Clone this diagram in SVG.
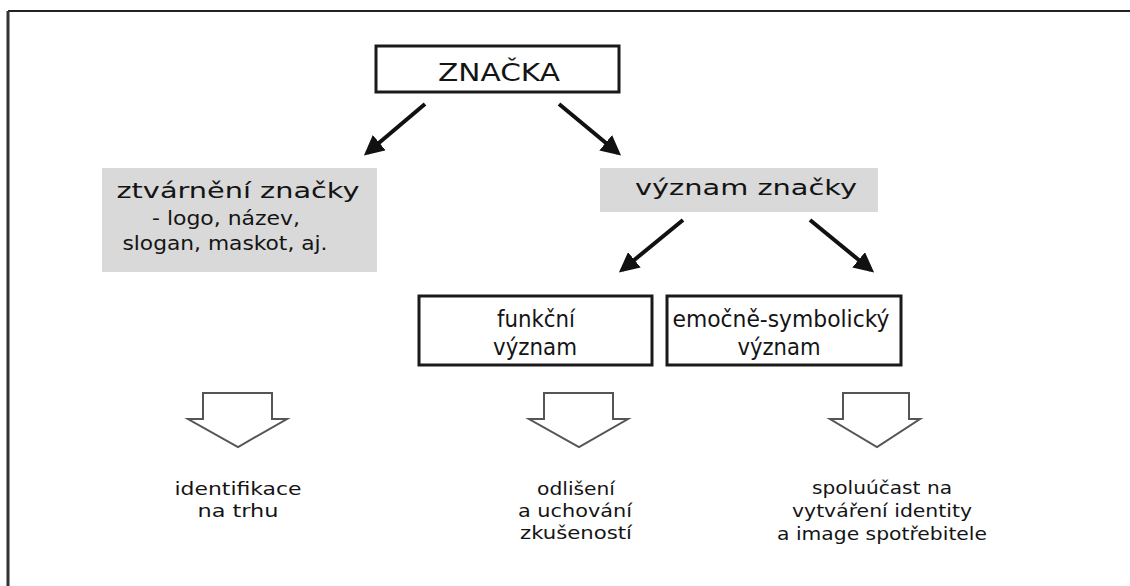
<svg xmlns="http://www.w3.org/2000/svg" width="1130" height="586" viewBox="0 0 1130 586">
<defs>
<style>
text{font-family:"DejaVu Sans","Liberation Sans",sans-serif;fill:#141414;text-anchor:middle}
.t1{font-size:25px}
.t2{font-size:21px}
.t3{font-size:19px}
.t4{font-size:23px}
.t5{font-size:18px}
.gray{fill:#d9d9d9;stroke:none}
.box{fill:#fff;stroke:#1a1a1a;stroke-width:3}
.conn{stroke:#111;stroke-width:4;fill:none;marker-end:url(#ah)}
.block{fill:#fff;stroke:#555;stroke-width:2;stroke-linejoin:miter}
</style>
<marker id="ah" viewBox="0 0 10 10" refX="8" refY="5" markerWidth="5" markerHeight="5" orient="auto" markerUnits="strokeWidth">
<path d="M0,0 L10,5 L0,10 z" fill="#111"/>
</marker>
</defs>
<rect width="1130" height="586" fill="#fff"/>
<g id="frame">
<line x1="8" y1="11" x2="1130" y2="11" stroke="#222" stroke-width="2"/>
<line x1="8" y1="11" x2="8" y2="586" stroke="#333" stroke-width="3"/>
</g>
<g id="znacka">
<rect class="box" x="376" y="46" width="243" height="46" stroke-width="4"/>
<text class="t1" x="499" y="81" textLength="122" lengthAdjust="spacingAndGlyphs">ZNAČKA</text>
</g>
<g id="ztvarneni">
<rect class="gray" x="102" y="168" width="275" height="104"/>
<text class="t2" x="238" y="198" textLength="243" lengthAdjust="spacingAndGlyphs">ztvárnění značky</text>
<text class="t3" x="226" y="225" textLength="148" lengthAdjust="spacingAndGlyphs">- logo, název,</text>
<text class="t3" x="225" y="250" textLength="205" lengthAdjust="spacingAndGlyphs">slogan, maskot, aj.</text>
</g>
<g id="vyznam">
<rect class="gray" x="600" y="168" width="278" height="44"/>
<text class="t2" x="746" y="195" textLength="222" lengthAdjust="spacingAndGlyphs">význam značky</text>
</g>
<g id="funkcni">
<rect class="box" x="419" y="296" width="233" height="69" stroke-width="2.5"/>
<text class="t4" x="536" y="327" textLength="78" lengthAdjust="spacingAndGlyphs">funkční</text>
<text class="t4" x="535" y="355" textLength="84" lengthAdjust="spacingAndGlyphs">význam</text>
</g>
<g id="emocne">
<rect class="box" x="667" y="296" width="234" height="69" stroke-width="2.5"/>
<text class="t4" x="781" y="327" textLength="217" lengthAdjust="spacingAndGlyphs">emočně-symbolický</text>
<text class="t4" x="779" y="355" textLength="83" lengthAdjust="spacingAndGlyphs">význam</text>
</g>
<g id="connectors">
<line class="conn" x1="425" y1="104" x2="367" y2="153"/>
<line class="conn" x1="559" y1="104" x2="618" y2="153"/>
<line class="conn" x1="683" y1="220" x2="622" y2="270"/>
<line class="conn" x1="810" y1="220" x2="871" y2="270"/>
<path class="block" d="M203,393 H272 V419 H287 L238,447 L188,419 H203 Z"/>
<path class="block" d="M544,393 H613 V419 H628 L579,447 L529,419 H544 Z"/>
<path class="block" d="M843,393 H909 V419 H920 L877,447 L830,419 H843 Z"/>
</g>
<g id="identifikace">
<text class="t5" x="238" y="495" textLength="127" lengthAdjust="spacingAndGlyphs">identifikace</text>
<text class="t5" x="238" y="517" textLength="81" lengthAdjust="spacingAndGlyphs">na trhu</text>
</g>
<g id="odliseni">
<text class="t5" x="576" y="495" textLength="78" lengthAdjust="spacingAndGlyphs">odlišení</text>
<text class="t5" x="575" y="517" textLength="114" lengthAdjust="spacingAndGlyphs">a uchování</text>
<text class="t5" x="576" y="539" textLength="112" lengthAdjust="spacingAndGlyphs">zkušeností</text>
</g>
<g id="spoluucast">
<text class="t5" x="882" y="494" textLength="140" lengthAdjust="spacingAndGlyphs">spoluúčast na</text>
<text class="t5" x="882" y="517" textLength="180" lengthAdjust="spacingAndGlyphs">vytváření identity</text>
<text class="t5" x="882" y="540" textLength="210" lengthAdjust="spacingAndGlyphs">a image spotřebitele</text>
</g>
</svg>
